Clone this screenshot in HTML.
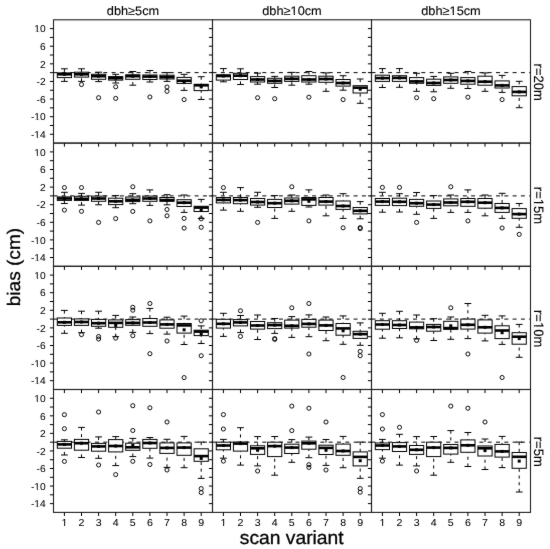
<!DOCTYPE html><html><head><meta charset="utf-8"><style>html,body{margin:0;padding:0;background:#fff;}svg{display:block;}#w{width:550px;height:549px;}text{text-rendering:geometricPrecision;font-family:"Liberation Sans",sans-serif;}</style></head><body><div id="w">
<svg width="550" height="549" viewBox="0 0 550 549">
<defs><filter id="bl" x="0" y="0" width="550" height="549" filterUnits="userSpaceOnUse" color-interpolation-filters="sRGB"><feConvolveMatrix order="3" kernelMatrix="0.01 0.05 0.01 0.05 0.76 0.05 0.01 0.05 0.01" divisor="1" edgeMode="duplicate"/></filter></defs><g filter="url(#bl)">
<rect x="0" y="0" width="550" height="549" fill="#fff"/>
<g stroke="#000" stroke-width="1" fill="none" stroke-dasharray="4 4.3">
<line x1="53.5" y1="72.64" x2="212.5" y2="72.64"/>
<line x1="212.5" y1="72.64" x2="371.5" y2="72.64"/>
<line x1="371.5" y1="72.64" x2="530.5" y2="72.64"/>
<line x1="53.5" y1="195.9" x2="212.5" y2="195.9"/>
<line x1="212.5" y1="195.9" x2="371.5" y2="195.9"/>
<line x1="371.5" y1="195.9" x2="530.5" y2="195.9"/>
<line x1="53.5" y1="319.1" x2="212.5" y2="319.1"/>
<line x1="212.5" y1="319.1" x2="371.5" y2="319.1"/>
<line x1="371.5" y1="319.1" x2="530.5" y2="319.1"/>
<line x1="53.5" y1="442.17" x2="212.5" y2="442.17"/>
<line x1="212.5" y1="442.17" x2="371.5" y2="442.17"/>
<line x1="371.5" y1="442.17" x2="530.5" y2="442.17"/>
</g>
<g stroke="#000" stroke-width="1" fill="none" stroke-dasharray="3.1 3.6">
<line x1="64.4" y1="68.8" x2="64.4" y2="72.9"/>
<line x1="64.4" y1="81.4" x2="64.4" y2="77.6"/>
<line x1="81.5" y1="68.8" x2="81.5" y2="72.2"/>
<line x1="81.5" y1="81.4" x2="81.5" y2="77.1"/>
<line x1="98.6" y1="72.2" x2="98.6" y2="74.3"/>
<line x1="98.6" y1="81.6" x2="98.6" y2="79.3"/>
<line x1="115.7" y1="74.3" x2="115.7" y2="76.6"/>
<line x1="115.7" y1="83" x2="115.7" y2="80.1"/>
<line x1="132.8" y1="71.5" x2="132.8" y2="74.8"/>
<line x1="132.8" y1="85.2" x2="132.8" y2="79.3"/>
<line x1="149.9" y1="70.5" x2="149.9" y2="75"/>
<line x1="149.9" y1="82" x2="149.9" y2="79.5"/>
<line x1="167" y1="72.6" x2="167" y2="75.2"/>
<line x1="167" y1="81.4" x2="167" y2="79"/>
<line x1="184.1" y1="74.3" x2="184.1" y2="77.4"/>
<line x1="184.1" y1="90.4" x2="184.1" y2="83.4"/>
<line x1="201.2" y1="76.7" x2="201.2" y2="84.3"/>
<line x1="201.2" y1="99.5" x2="201.2" y2="90.6"/>
<line x1="223.4" y1="68.6" x2="223.4" y2="74.8"/>
<line x1="223.4" y1="81.8" x2="223.4" y2="80.1"/>
<line x1="240.5" y1="68.8" x2="240.5" y2="73.3"/>
<line x1="240.5" y1="84.5" x2="240.5" y2="79.5"/>
<line x1="257.6" y1="73.2" x2="257.6" y2="76.6"/>
<line x1="257.6" y1="84.2" x2="257.6" y2="82"/>
<line x1="274.7" y1="76.4" x2="274.7" y2="78.3"/>
<line x1="274.7" y1="87.5" x2="274.7" y2="83.3"/>
<line x1="291.8" y1="72.4" x2="291.8" y2="76.2"/>
<line x1="291.8" y1="85.2" x2="291.8" y2="81.4"/>
<line x1="308.9" y1="71.5" x2="308.9" y2="75.7"/>
<line x1="308.9" y1="84.2" x2="308.9" y2="82"/>
<line x1="326" y1="72.9" x2="326" y2="76.2"/>
<line x1="326" y1="91.3" x2="326" y2="82.3"/>
<line x1="343.1" y1="75.7" x2="343.1" y2="79.5"/>
<line x1="343.1" y1="90.2" x2="343.1" y2="86.1"/>
<line x1="360.2" y1="79" x2="360.2" y2="85.7"/>
<line x1="360.2" y1="103.3" x2="360.2" y2="93"/>
<line x1="382.4" y1="68.6" x2="382.4" y2="75.2"/>
<line x1="382.4" y1="87.5" x2="382.4" y2="81.4"/>
<line x1="399.5" y1="68.6" x2="399.5" y2="75.7"/>
<line x1="399.5" y1="87.3" x2="399.5" y2="81.4"/>
<line x1="416.6" y1="73.3" x2="416.6" y2="77.6"/>
<line x1="416.6" y1="91.3" x2="416.6" y2="83.3"/>
<line x1="433.7" y1="76.4" x2="433.7" y2="79.2"/>
<line x1="433.7" y1="91.8" x2="433.7" y2="85.4"/>
<line x1="450.8" y1="73.3" x2="450.8" y2="76.9"/>
<line x1="450.8" y1="88.3" x2="450.8" y2="83.3"/>
<line x1="467.9" y1="71.5" x2="467.9" y2="77.6"/>
<line x1="467.9" y1="88.5" x2="467.9" y2="84.2"/>
<line x1="485" y1="72.9" x2="485" y2="76.2"/>
<line x1="485" y1="91.3" x2="485" y2="85.2"/>
<line x1="502.1" y1="75.4" x2="502.1" y2="80.9"/>
<line x1="502.1" y1="92.4" x2="502.1" y2="88"/>
<line x1="519.2" y1="81.3" x2="519.2" y2="86.6"/>
<line x1="519.2" y1="107.7" x2="519.2" y2="95.8"/>
<line x1="64.4" y1="192.3" x2="64.4" y2="196.9"/>
<line x1="64.4" y1="203.5" x2="64.4" y2="200.4"/>
<line x1="81.5" y1="193.4" x2="81.5" y2="196.3"/>
<line x1="81.5" y1="205.1" x2="81.5" y2="200.4"/>
<line x1="98.6" y1="192.3" x2="98.6" y2="196.1"/>
<line x1="98.6" y1="204.8" x2="98.6" y2="201.3"/>
<line x1="115.7" y1="195.6" x2="115.7" y2="198.2"/>
<line x1="115.7" y1="207.7" x2="115.7" y2="204.6"/>
<line x1="132.8" y1="193.7" x2="132.8" y2="197"/>
<line x1="132.8" y1="203.7" x2="132.8" y2="201.6"/>
<line x1="149.9" y1="189.9" x2="149.9" y2="196.1"/>
<line x1="149.9" y1="205.4" x2="149.9" y2="201.3"/>
<line x1="167" y1="194.7" x2="167" y2="197.5"/>
<line x1="167" y1="204.8" x2="167" y2="201.3"/>
<line x1="184.1" y1="195" x2="184.1" y2="199.7"/>
<line x1="184.1" y1="212.4" x2="184.1" y2="206.5"/>
<line x1="201.2" y1="199.4" x2="201.2" y2="206.3"/>
<line x1="201.2" y1="218.4" x2="201.2" y2="211.5"/>
<line x1="223.4" y1="192.3" x2="223.4" y2="197.5"/>
<line x1="223.4" y1="210.1" x2="223.4" y2="202.9"/>
<line x1="240.5" y1="187.6" x2="240.5" y2="197.5"/>
<line x1="240.5" y1="211.3" x2="240.5" y2="203.7"/>
<line x1="257.6" y1="192.3" x2="257.6" y2="198.5"/>
<line x1="257.6" y1="207.3" x2="257.6" y2="205.1"/>
<line x1="274.7" y1="195.6" x2="274.7" y2="199.4"/>
<line x1="274.7" y1="218.4" x2="274.7" y2="207.5"/>
<line x1="291.8" y1="195" x2="291.8" y2="198"/>
<line x1="291.8" y1="211.3" x2="291.8" y2="204.1"/>
<line x1="308.9" y1="189.9" x2="308.9" y2="197.5"/>
<line x1="308.9" y1="207" x2="308.9" y2="205.4"/>
<line x1="326" y1="195" x2="326" y2="197.5"/>
<line x1="326" y1="215.8" x2="326" y2="205.1"/>
<line x1="343.1" y1="193.7" x2="343.1" y2="201"/>
<line x1="343.1" y1="218.4" x2="343.1" y2="209.4"/>
<line x1="360.2" y1="201.6" x2="360.2" y2="207.5"/>
<line x1="360.2" y1="218.8" x2="360.2" y2="213.9"/>
<line x1="382.4" y1="192.3" x2="382.4" y2="198.5"/>
<line x1="382.4" y1="212.2" x2="382.4" y2="205.4"/>
<line x1="399.5" y1="193.7" x2="399.5" y2="198.2"/>
<line x1="399.5" y1="212" x2="399.5" y2="205.6"/>
<line x1="416.6" y1="192.5" x2="416.6" y2="199.4"/>
<line x1="416.6" y1="214.3" x2="416.6" y2="206.3"/>
<line x1="433.7" y1="195.6" x2="433.7" y2="201"/>
<line x1="433.7" y1="218.4" x2="433.7" y2="208.4"/>
<line x1="450.8" y1="195" x2="450.8" y2="198.9"/>
<line x1="450.8" y1="212.4" x2="450.8" y2="205.8"/>
<line x1="467.9" y1="189.9" x2="467.9" y2="198.5"/>
<line x1="467.9" y1="212.4" x2="467.9" y2="206.3"/>
<line x1="485" y1="195" x2="485" y2="198.5"/>
<line x1="485" y1="215.8" x2="485" y2="208.2"/>
<line x1="502.1" y1="193.3" x2="502.1" y2="203.5"/>
<line x1="502.1" y1="218.4" x2="502.1" y2="212.4"/>
<line x1="519.2" y1="203.5" x2="519.2" y2="208.6"/>
<line x1="519.2" y1="227.3" x2="519.2" y2="218.3"/>
<line x1="64.4" y1="310.4" x2="64.4" y2="318"/>
<line x1="64.4" y1="333.3" x2="64.4" y2="325.4"/>
<line x1="81.5" y1="311.2" x2="81.5" y2="318.9"/>
<line x1="81.5" y1="332.7" x2="81.5" y2="325.4"/>
<line x1="98.6" y1="311.2" x2="98.6" y2="319.4"/>
<line x1="98.6" y1="328.2" x2="98.6" y2="326.3"/>
<line x1="115.7" y1="315.4" x2="115.7" y2="319.9"/>
<line x1="115.7" y1="336.7" x2="115.7" y2="327.3"/>
<line x1="132.8" y1="317" x2="132.8" y2="319.6"/>
<line x1="132.8" y1="332.4" x2="132.8" y2="325.3"/>
<line x1="149.9" y1="308.4" x2="149.9" y2="318.5"/>
<line x1="149.9" y1="333.6" x2="149.9" y2="326.3"/>
<line x1="167" y1="317.2" x2="167" y2="319.9"/>
<line x1="167" y1="334.1" x2="167" y2="328.2"/>
<line x1="184.1" y1="316.1" x2="184.1" y2="323.5"/>
<line x1="184.1" y1="344.5" x2="184.1" y2="333.1"/>
<line x1="201.2" y1="325.9" x2="201.2" y2="330.2"/>
<line x1="201.2" y1="343.5" x2="201.2" y2="335.6"/>
<line x1="223.4" y1="313.3" x2="223.4" y2="319.3"/>
<line x1="223.4" y1="336.4" x2="223.4" y2="328.1"/>
<line x1="240.5" y1="315.5" x2="240.5" y2="319.6"/>
<line x1="240.5" y1="332.6" x2="240.5" y2="325.9"/>
<line x1="257.6" y1="315" x2="257.6" y2="321.5"/>
<line x1="257.6" y1="339.5" x2="257.6" y2="329.1"/>
<line x1="274.7" y1="318.5" x2="274.7" y2="322.7"/>
<line x1="274.7" y1="333.4" x2="274.7" y2="328.6"/>
<line x1="291.8" y1="316.6" x2="291.8" y2="320.1"/>
<line x1="291.8" y1="337.4" x2="291.8" y2="328.1"/>
<line x1="308.9" y1="314.9" x2="308.9" y2="319.4"/>
<line x1="308.9" y1="336.7" x2="308.9" y2="327.2"/>
<line x1="326" y1="317" x2="326" y2="320.1"/>
<line x1="326" y1="340.7" x2="326" y2="330.5"/>
<line x1="343.1" y1="315.9" x2="343.1" y2="323.5"/>
<line x1="343.1" y1="344.3" x2="343.1" y2="335.2"/>
<line x1="360.2" y1="322.9" x2="360.2" y2="331.3"/>
<line x1="360.2" y1="345.3" x2="360.2" y2="338.4"/>
<line x1="382.4" y1="313.3" x2="382.4" y2="320.7"/>
<line x1="382.4" y1="338.2" x2="382.4" y2="329.2"/>
<line x1="399.5" y1="311.3" x2="399.5" y2="320.7"/>
<line x1="399.5" y1="337.8" x2="399.5" y2="328.5"/>
<line x1="416.6" y1="315" x2="416.6" y2="322.1"/>
<line x1="416.6" y1="338.9" x2="416.6" y2="328.8"/>
<line x1="433.7" y1="318.7" x2="433.7" y2="324.4"/>
<line x1="433.7" y1="340.5" x2="433.7" y2="331.2"/>
<line x1="450.8" y1="317" x2="450.8" y2="321.3"/>
<line x1="450.8" y1="339.3" x2="450.8" y2="329.3"/>
<line x1="467.9" y1="303.5" x2="467.9" y2="319.1"/>
<line x1="467.9" y1="338.6" x2="467.9" y2="329.1"/>
<line x1="485" y1="315.3" x2="485" y2="319.9"/>
<line x1="485" y1="340.9" x2="485" y2="333.1"/>
<line x1="502.1" y1="315.9" x2="502.1" y2="325.8"/>
<line x1="502.1" y1="344.4" x2="502.1" y2="338.6"/>
<line x1="519.2" y1="324.4" x2="519.2" y2="332.7"/>
<line x1="519.2" y1="357.3" x2="519.2" y2="344.2"/>
<line x1="64.4" y1="439.8" x2="64.4" y2="441.4"/>
<line x1="64.4" y1="455" x2="64.4" y2="448.2"/>
<line x1="81.5" y1="427.4" x2="81.5" y2="439.4"/>
<line x1="81.5" y1="457.5" x2="81.5" y2="450.2"/>
<line x1="98.6" y1="436.9" x2="98.6" y2="443.4"/>
<line x1="98.6" y1="458.3" x2="98.6" y2="451.2"/>
<line x1="115.7" y1="436.6" x2="115.7" y2="439.6"/>
<line x1="115.7" y1="465.6" x2="115.7" y2="451.9"/>
<line x1="132.8" y1="438.4" x2="132.8" y2="443.2"/>
<line x1="132.8" y1="456.6" x2="132.8" y2="450.3"/>
<line x1="149.9" y1="437.5" x2="149.9" y2="439.4"/>
<line x1="149.9" y1="458.1" x2="149.9" y2="448.3"/>
<line x1="167" y1="439.3" x2="167" y2="442.9"/>
<line x1="167" y1="467.4" x2="167" y2="453.4"/>
<line x1="184.1" y1="436.4" x2="184.1" y2="442.9"/>
<line x1="184.1" y1="467.7" x2="184.1" y2="455.3"/>
<line x1="201.2" y1="442.1" x2="201.2" y2="448.8"/>
<line x1="201.2" y1="478.4" x2="201.2" y2="461.3"/>
<line x1="223.4" y1="439.4" x2="223.4" y2="442.2"/>
<line x1="223.4" y1="458.2" x2="223.4" y2="449.8"/>
<line x1="240.5" y1="427.7" x2="240.5" y2="442"/>
<line x1="240.5" y1="465.1" x2="240.5" y2="451.1"/>
<line x1="257.6" y1="436.6" x2="257.6" y2="445.8"/>
<line x1="257.6" y1="465.9" x2="257.6" y2="454.4"/>
<line x1="274.7" y1="436.5" x2="274.7" y2="442.2"/>
<line x1="274.7" y1="475.2" x2="274.7" y2="456.6"/>
<line x1="291.8" y1="439.6" x2="291.8" y2="444.2"/>
<line x1="291.8" y1="462.3" x2="291.8" y2="453.5"/>
<line x1="308.9" y1="437.1" x2="308.9" y2="441.1"/>
<line x1="308.9" y1="457.7" x2="308.9" y2="449.2"/>
<line x1="326" y1="439.5" x2="326" y2="445.2"/>
<line x1="326" y1="465.4" x2="326" y2="454.5"/>
<line x1="343.1" y1="436.4" x2="343.1" y2="444.1"/>
<line x1="343.1" y1="467.7" x2="343.1" y2="455.3"/>
<line x1="360.2" y1="442.1" x2="360.2" y2="451.9"/>
<line x1="360.2" y1="478.3" x2="360.2" y2="465.9"/>
<line x1="382.4" y1="439.4" x2="382.4" y2="443"/>
<line x1="382.4" y1="458.2" x2="382.4" y2="449.6"/>
<line x1="399.5" y1="434.3" x2="399.5" y2="442.6"/>
<line x1="399.5" y1="465.1" x2="399.5" y2="451.5"/>
<line x1="416.6" y1="436.6" x2="416.6" y2="445.5"/>
<line x1="416.6" y1="465.9" x2="416.6" y2="454.4"/>
<line x1="433.7" y1="436.5" x2="433.7" y2="442.2"/>
<line x1="433.7" y1="475.2" x2="433.7" y2="456.6"/>
<line x1="450.8" y1="430.6" x2="450.8" y2="444.5"/>
<line x1="450.8" y1="462.3" x2="450.8" y2="454.1"/>
<line x1="467.9" y1="432.5" x2="467.9" y2="439.9"/>
<line x1="467.9" y1="466.5" x2="467.9" y2="452.3"/>
<line x1="485" y1="439" x2="485" y2="446"/>
<line x1="485" y1="469.5" x2="485" y2="456"/>
<line x1="502.1" y1="436.4" x2="502.1" y2="444.4"/>
<line x1="502.1" y1="467.6" x2="502.1" y2="457.1"/>
<line x1="519.2" y1="442.1" x2="519.2" y2="452.5"/>
<line x1="519.2" y1="492" x2="519.2" y2="468.3"/>
</g>
<g stroke="#000" stroke-width="1" fill="none">
<line x1="61" y1="68.8" x2="67.8" y2="68.8"/>
<line x1="61" y1="81.4" x2="67.8" y2="81.4"/>
<line x1="78.1" y1="68.8" x2="84.9" y2="68.8"/>
<line x1="78.1" y1="81.4" x2="84.9" y2="81.4"/>
<line x1="95.2" y1="72.2" x2="102" y2="72.2"/>
<line x1="95.2" y1="81.6" x2="102" y2="81.6"/>
<line x1="112.3" y1="74.3" x2="119.1" y2="74.3"/>
<line x1="112.3" y1="83" x2="119.1" y2="83"/>
<line x1="129.4" y1="71.5" x2="136.2" y2="71.5"/>
<line x1="129.4" y1="85.2" x2="136.2" y2="85.2"/>
<line x1="146.5" y1="70.5" x2="153.3" y2="70.5"/>
<line x1="146.5" y1="82" x2="153.3" y2="82"/>
<line x1="163.6" y1="72.6" x2="170.4" y2="72.6"/>
<line x1="163.6" y1="81.4" x2="170.4" y2="81.4"/>
<line x1="180.7" y1="74.3" x2="187.5" y2="74.3"/>
<line x1="180.7" y1="90.4" x2="187.5" y2="90.4"/>
<line x1="197.8" y1="76.7" x2="204.6" y2="76.7"/>
<line x1="197.8" y1="99.5" x2="204.6" y2="99.5"/>
<line x1="220" y1="68.6" x2="226.8" y2="68.6"/>
<line x1="220" y1="81.8" x2="226.8" y2="81.8"/>
<line x1="237.1" y1="68.8" x2="243.9" y2="68.8"/>
<line x1="237.1" y1="84.5" x2="243.9" y2="84.5"/>
<line x1="254.2" y1="73.2" x2="261" y2="73.2"/>
<line x1="254.2" y1="84.2" x2="261" y2="84.2"/>
<line x1="271.3" y1="76.4" x2="278.1" y2="76.4"/>
<line x1="271.3" y1="87.5" x2="278.1" y2="87.5"/>
<line x1="288.4" y1="72.4" x2="295.2" y2="72.4"/>
<line x1="288.4" y1="85.2" x2="295.2" y2="85.2"/>
<line x1="305.5" y1="71.5" x2="312.3" y2="71.5"/>
<line x1="305.5" y1="84.2" x2="312.3" y2="84.2"/>
<line x1="322.6" y1="72.9" x2="329.4" y2="72.9"/>
<line x1="322.6" y1="91.3" x2="329.4" y2="91.3"/>
<line x1="339.7" y1="75.7" x2="346.5" y2="75.7"/>
<line x1="339.7" y1="90.2" x2="346.5" y2="90.2"/>
<line x1="356.8" y1="79" x2="363.6" y2="79"/>
<line x1="356.8" y1="103.3" x2="363.6" y2="103.3"/>
<line x1="379" y1="68.6" x2="385.8" y2="68.6"/>
<line x1="379" y1="87.5" x2="385.8" y2="87.5"/>
<line x1="396.1" y1="68.6" x2="402.9" y2="68.6"/>
<line x1="396.1" y1="87.3" x2="402.9" y2="87.3"/>
<line x1="413.2" y1="73.3" x2="420" y2="73.3"/>
<line x1="413.2" y1="91.3" x2="420" y2="91.3"/>
<line x1="430.3" y1="76.4" x2="437.1" y2="76.4"/>
<line x1="430.3" y1="91.8" x2="437.1" y2="91.8"/>
<line x1="447.4" y1="73.3" x2="454.2" y2="73.3"/>
<line x1="447.4" y1="88.3" x2="454.2" y2="88.3"/>
<line x1="464.5" y1="71.5" x2="471.3" y2="71.5"/>
<line x1="464.5" y1="88.5" x2="471.3" y2="88.5"/>
<line x1="481.6" y1="72.9" x2="488.4" y2="72.9"/>
<line x1="481.6" y1="91.3" x2="488.4" y2="91.3"/>
<line x1="498.7" y1="75.4" x2="505.5" y2="75.4"/>
<line x1="498.7" y1="92.4" x2="505.5" y2="92.4"/>
<line x1="515.8" y1="81.3" x2="522.6" y2="81.3"/>
<line x1="515.8" y1="107.7" x2="522.6" y2="107.7"/>
<line x1="61" y1="192.3" x2="67.8" y2="192.3"/>
<line x1="61" y1="203.5" x2="67.8" y2="203.5"/>
<line x1="78.1" y1="193.4" x2="84.9" y2="193.4"/>
<line x1="78.1" y1="205.1" x2="84.9" y2="205.1"/>
<line x1="95.2" y1="192.3" x2="102" y2="192.3"/>
<line x1="95.2" y1="204.8" x2="102" y2="204.8"/>
<line x1="112.3" y1="195.6" x2="119.1" y2="195.6"/>
<line x1="112.3" y1="207.7" x2="119.1" y2="207.7"/>
<line x1="129.4" y1="193.7" x2="136.2" y2="193.7"/>
<line x1="129.4" y1="203.7" x2="136.2" y2="203.7"/>
<line x1="146.5" y1="189.9" x2="153.3" y2="189.9"/>
<line x1="146.5" y1="205.4" x2="153.3" y2="205.4"/>
<line x1="163.6" y1="194.7" x2="170.4" y2="194.7"/>
<line x1="163.6" y1="204.8" x2="170.4" y2="204.8"/>
<line x1="180.7" y1="195" x2="187.5" y2="195"/>
<line x1="180.7" y1="212.4" x2="187.5" y2="212.4"/>
<line x1="197.8" y1="199.4" x2="204.6" y2="199.4"/>
<line x1="197.8" y1="218.4" x2="204.6" y2="218.4"/>
<line x1="220" y1="192.3" x2="226.8" y2="192.3"/>
<line x1="220" y1="210.1" x2="226.8" y2="210.1"/>
<line x1="237.1" y1="187.6" x2="243.9" y2="187.6"/>
<line x1="237.1" y1="211.3" x2="243.9" y2="211.3"/>
<line x1="254.2" y1="192.3" x2="261" y2="192.3"/>
<line x1="254.2" y1="207.3" x2="261" y2="207.3"/>
<line x1="271.3" y1="195.6" x2="278.1" y2="195.6"/>
<line x1="271.3" y1="218.4" x2="278.1" y2="218.4"/>
<line x1="288.4" y1="195" x2="295.2" y2="195"/>
<line x1="288.4" y1="211.3" x2="295.2" y2="211.3"/>
<line x1="305.5" y1="189.9" x2="312.3" y2="189.9"/>
<line x1="305.5" y1="207" x2="312.3" y2="207"/>
<line x1="322.6" y1="195" x2="329.4" y2="195"/>
<line x1="322.6" y1="215.8" x2="329.4" y2="215.8"/>
<line x1="339.7" y1="193.7" x2="346.5" y2="193.7"/>
<line x1="339.7" y1="218.4" x2="346.5" y2="218.4"/>
<line x1="356.8" y1="201.6" x2="363.6" y2="201.6"/>
<line x1="356.8" y1="218.8" x2="363.6" y2="218.8"/>
<line x1="379" y1="192.3" x2="385.8" y2="192.3"/>
<line x1="379" y1="212.2" x2="385.8" y2="212.2"/>
<line x1="396.1" y1="193.7" x2="402.9" y2="193.7"/>
<line x1="396.1" y1="212" x2="402.9" y2="212"/>
<line x1="413.2" y1="192.5" x2="420" y2="192.5"/>
<line x1="413.2" y1="214.3" x2="420" y2="214.3"/>
<line x1="430.3" y1="195.6" x2="437.1" y2="195.6"/>
<line x1="430.3" y1="218.4" x2="437.1" y2="218.4"/>
<line x1="447.4" y1="195" x2="454.2" y2="195"/>
<line x1="447.4" y1="212.4" x2="454.2" y2="212.4"/>
<line x1="464.5" y1="189.9" x2="471.3" y2="189.9"/>
<line x1="464.5" y1="212.4" x2="471.3" y2="212.4"/>
<line x1="481.6" y1="195" x2="488.4" y2="195"/>
<line x1="481.6" y1="215.8" x2="488.4" y2="215.8"/>
<line x1="498.7" y1="193.3" x2="505.5" y2="193.3"/>
<line x1="498.7" y1="218.4" x2="505.5" y2="218.4"/>
<line x1="515.8" y1="203.5" x2="522.6" y2="203.5"/>
<line x1="515.8" y1="227.3" x2="522.6" y2="227.3"/>
<line x1="61" y1="310.4" x2="67.8" y2="310.4"/>
<line x1="61" y1="333.3" x2="67.8" y2="333.3"/>
<line x1="78.1" y1="311.2" x2="84.9" y2="311.2"/>
<line x1="78.1" y1="332.7" x2="84.9" y2="332.7"/>
<line x1="95.2" y1="311.2" x2="102" y2="311.2"/>
<line x1="95.2" y1="328.2" x2="102" y2="328.2"/>
<line x1="112.3" y1="315.4" x2="119.1" y2="315.4"/>
<line x1="112.3" y1="336.7" x2="119.1" y2="336.7"/>
<line x1="129.4" y1="317" x2="136.2" y2="317"/>
<line x1="129.4" y1="332.4" x2="136.2" y2="332.4"/>
<line x1="146.5" y1="308.4" x2="153.3" y2="308.4"/>
<line x1="146.5" y1="333.6" x2="153.3" y2="333.6"/>
<line x1="163.6" y1="317.2" x2="170.4" y2="317.2"/>
<line x1="163.6" y1="334.1" x2="170.4" y2="334.1"/>
<line x1="180.7" y1="316.1" x2="187.5" y2="316.1"/>
<line x1="180.7" y1="344.5" x2="187.5" y2="344.5"/>
<line x1="197.8" y1="325.9" x2="204.6" y2="325.9"/>
<line x1="197.8" y1="343.5" x2="204.6" y2="343.5"/>
<line x1="220" y1="313.3" x2="226.8" y2="313.3"/>
<line x1="220" y1="336.4" x2="226.8" y2="336.4"/>
<line x1="237.1" y1="315.5" x2="243.9" y2="315.5"/>
<line x1="237.1" y1="332.6" x2="243.9" y2="332.6"/>
<line x1="254.2" y1="315" x2="261" y2="315"/>
<line x1="254.2" y1="339.5" x2="261" y2="339.5"/>
<line x1="271.3" y1="318.5" x2="278.1" y2="318.5"/>
<line x1="271.3" y1="333.4" x2="278.1" y2="333.4"/>
<line x1="288.4" y1="316.6" x2="295.2" y2="316.6"/>
<line x1="288.4" y1="337.4" x2="295.2" y2="337.4"/>
<line x1="305.5" y1="314.9" x2="312.3" y2="314.9"/>
<line x1="305.5" y1="336.7" x2="312.3" y2="336.7"/>
<line x1="322.6" y1="317" x2="329.4" y2="317"/>
<line x1="322.6" y1="340.7" x2="329.4" y2="340.7"/>
<line x1="339.7" y1="315.9" x2="346.5" y2="315.9"/>
<line x1="339.7" y1="344.3" x2="346.5" y2="344.3"/>
<line x1="356.8" y1="322.9" x2="363.6" y2="322.9"/>
<line x1="356.8" y1="345.3" x2="363.6" y2="345.3"/>
<line x1="379" y1="313.3" x2="385.8" y2="313.3"/>
<line x1="379" y1="338.2" x2="385.8" y2="338.2"/>
<line x1="396.1" y1="311.3" x2="402.9" y2="311.3"/>
<line x1="396.1" y1="337.8" x2="402.9" y2="337.8"/>
<line x1="413.2" y1="315" x2="420" y2="315"/>
<line x1="413.2" y1="338.9" x2="420" y2="338.9"/>
<line x1="430.3" y1="318.7" x2="437.1" y2="318.7"/>
<line x1="430.3" y1="340.5" x2="437.1" y2="340.5"/>
<line x1="447.4" y1="317" x2="454.2" y2="317"/>
<line x1="447.4" y1="339.3" x2="454.2" y2="339.3"/>
<line x1="464.5" y1="303.5" x2="471.3" y2="303.5"/>
<line x1="464.5" y1="338.6" x2="471.3" y2="338.6"/>
<line x1="481.6" y1="315.3" x2="488.4" y2="315.3"/>
<line x1="481.6" y1="340.9" x2="488.4" y2="340.9"/>
<line x1="498.7" y1="315.9" x2="505.5" y2="315.9"/>
<line x1="498.7" y1="344.4" x2="505.5" y2="344.4"/>
<line x1="515.8" y1="324.4" x2="522.6" y2="324.4"/>
<line x1="515.8" y1="357.3" x2="522.6" y2="357.3"/>
<line x1="61" y1="439.8" x2="67.8" y2="439.8"/>
<line x1="61" y1="455" x2="67.8" y2="455"/>
<line x1="78.1" y1="427.4" x2="84.9" y2="427.4"/>
<line x1="78.1" y1="457.5" x2="84.9" y2="457.5"/>
<line x1="95.2" y1="436.9" x2="102" y2="436.9"/>
<line x1="95.2" y1="458.3" x2="102" y2="458.3"/>
<line x1="112.3" y1="436.6" x2="119.1" y2="436.6"/>
<line x1="112.3" y1="465.6" x2="119.1" y2="465.6"/>
<line x1="129.4" y1="438.4" x2="136.2" y2="438.4"/>
<line x1="129.4" y1="456.6" x2="136.2" y2="456.6"/>
<line x1="146.5" y1="437.5" x2="153.3" y2="437.5"/>
<line x1="146.5" y1="458.1" x2="153.3" y2="458.1"/>
<line x1="163.6" y1="439.3" x2="170.4" y2="439.3"/>
<line x1="163.6" y1="467.4" x2="170.4" y2="467.4"/>
<line x1="180.7" y1="436.4" x2="187.5" y2="436.4"/>
<line x1="180.7" y1="467.7" x2="187.5" y2="467.7"/>
<line x1="197.8" y1="442.1" x2="204.6" y2="442.1"/>
<line x1="197.8" y1="478.4" x2="204.6" y2="478.4"/>
<line x1="220" y1="439.4" x2="226.8" y2="439.4"/>
<line x1="220" y1="458.2" x2="226.8" y2="458.2"/>
<line x1="237.1" y1="427.7" x2="243.9" y2="427.7"/>
<line x1="237.1" y1="465.1" x2="243.9" y2="465.1"/>
<line x1="254.2" y1="436.6" x2="261" y2="436.6"/>
<line x1="254.2" y1="465.9" x2="261" y2="465.9"/>
<line x1="271.3" y1="436.5" x2="278.1" y2="436.5"/>
<line x1="271.3" y1="475.2" x2="278.1" y2="475.2"/>
<line x1="288.4" y1="439.6" x2="295.2" y2="439.6"/>
<line x1="288.4" y1="462.3" x2="295.2" y2="462.3"/>
<line x1="305.5" y1="437.1" x2="312.3" y2="437.1"/>
<line x1="305.5" y1="457.7" x2="312.3" y2="457.7"/>
<line x1="322.6" y1="439.5" x2="329.4" y2="439.5"/>
<line x1="322.6" y1="465.4" x2="329.4" y2="465.4"/>
<line x1="339.7" y1="436.4" x2="346.5" y2="436.4"/>
<line x1="339.7" y1="467.7" x2="346.5" y2="467.7"/>
<line x1="356.8" y1="442.1" x2="363.6" y2="442.1"/>
<line x1="356.8" y1="478.3" x2="363.6" y2="478.3"/>
<line x1="379" y1="439.4" x2="385.8" y2="439.4"/>
<line x1="379" y1="458.2" x2="385.8" y2="458.2"/>
<line x1="396.1" y1="434.3" x2="402.9" y2="434.3"/>
<line x1="396.1" y1="465.1" x2="402.9" y2="465.1"/>
<line x1="413.2" y1="436.6" x2="420" y2="436.6"/>
<line x1="413.2" y1="465.9" x2="420" y2="465.9"/>
<line x1="430.3" y1="436.5" x2="437.1" y2="436.5"/>
<line x1="430.3" y1="475.2" x2="437.1" y2="475.2"/>
<line x1="447.4" y1="430.6" x2="454.2" y2="430.6"/>
<line x1="447.4" y1="462.3" x2="454.2" y2="462.3"/>
<line x1="464.5" y1="432.5" x2="471.3" y2="432.5"/>
<line x1="464.5" y1="466.5" x2="471.3" y2="466.5"/>
<line x1="481.6" y1="439" x2="488.4" y2="439"/>
<line x1="481.6" y1="469.5" x2="488.4" y2="469.5"/>
<line x1="498.7" y1="436.4" x2="505.5" y2="436.4"/>
<line x1="498.7" y1="467.6" x2="505.5" y2="467.6"/>
<line x1="515.8" y1="442.1" x2="522.6" y2="442.1"/>
<line x1="515.8" y1="492" x2="522.6" y2="492"/>
</g>
<g stroke="#000" stroke-width="1" fill="none">
<rect x="57.3" y="72.9" width="14.2" height="4.7" fill="#fff"/>
<rect x="74.4" y="72.2" width="14.2" height="4.9" fill="#fff"/>
<rect x="91.5" y="74.3" width="14.2" height="5" fill="#fff"/>
<rect x="108.6" y="76.6" width="14.2" height="3.5" fill="#fff"/>
<rect x="125.7" y="74.8" width="14.2" height="4.5" fill="#fff"/>
<rect x="142.8" y="75" width="14.2" height="4.5" fill="#fff"/>
<rect x="159.9" y="75.2" width="14.2" height="3.8" fill="#fff"/>
<rect x="177" y="77.4" width="14.2" height="6" fill="#fff"/>
<rect x="194.1" y="84.3" width="14.2" height="6.3" fill="#fff"/>
<rect x="216.3" y="74.8" width="14.2" height="5.3" fill="#fff"/>
<rect x="233.4" y="73.3" width="14.2" height="6.2" fill="#fff"/>
<rect x="250.5" y="76.6" width="14.2" height="5.4" fill="#fff"/>
<rect x="267.6" y="78.3" width="14.2" height="5" fill="#fff"/>
<rect x="284.7" y="76.2" width="14.2" height="5.2" fill="#fff"/>
<rect x="301.8" y="75.7" width="14.2" height="6.3" fill="#fff"/>
<rect x="318.9" y="76.2" width="14.2" height="6.1" fill="#fff"/>
<rect x="336" y="79.5" width="14.2" height="6.6" fill="#fff"/>
<rect x="353.1" y="85.7" width="14.2" height="7.3" fill="#fff"/>
<rect x="375.3" y="75.2" width="14.2" height="6.2" fill="#fff"/>
<rect x="392.4" y="75.7" width="14.2" height="5.7" fill="#fff"/>
<rect x="409.5" y="77.6" width="14.2" height="5.7" fill="#fff"/>
<rect x="426.6" y="79.2" width="14.2" height="6.2" fill="#fff"/>
<rect x="443.7" y="76.9" width="14.2" height="6.4" fill="#fff"/>
<rect x="460.8" y="77.6" width="14.2" height="6.6" fill="#fff"/>
<rect x="477.9" y="76.2" width="14.2" height="9" fill="#fff"/>
<rect x="495" y="80.9" width="14.2" height="7.1" fill="#fff"/>
<rect x="512.1" y="86.6" width="14.2" height="9.2" fill="#fff"/>
<rect x="57.3" y="196.9" width="14.2" height="3.5" fill="#fff"/>
<rect x="74.4" y="196.3" width="14.2" height="4.1" fill="#fff"/>
<rect x="91.5" y="196.1" width="14.2" height="5.2" fill="#fff"/>
<rect x="108.6" y="198.2" width="14.2" height="6.4" fill="#fff"/>
<rect x="125.7" y="197" width="14.2" height="4.6" fill="#fff"/>
<rect x="142.8" y="196.1" width="14.2" height="5.2" fill="#fff"/>
<rect x="159.9" y="197.5" width="14.2" height="3.8" fill="#fff"/>
<rect x="177" y="199.7" width="14.2" height="6.8" fill="#fff"/>
<rect x="194.1" y="206.3" width="14.2" height="5.2" fill="#fff"/>
<rect x="216.3" y="197.5" width="14.2" height="5.4" fill="#fff"/>
<rect x="233.4" y="197.5" width="14.2" height="6.2" fill="#fff"/>
<rect x="250.5" y="198.5" width="14.2" height="6.6" fill="#fff"/>
<rect x="267.6" y="199.4" width="14.2" height="8.1" fill="#fff"/>
<rect x="284.7" y="198" width="14.2" height="6.1" fill="#fff"/>
<rect x="301.8" y="197.5" width="14.2" height="7.9" fill="#fff"/>
<rect x="318.9" y="197.5" width="14.2" height="7.6" fill="#fff"/>
<rect x="336" y="201" width="14.2" height="8.4" fill="#fff"/>
<rect x="353.1" y="207.5" width="14.2" height="6.4" fill="#fff"/>
<rect x="375.3" y="198.5" width="14.2" height="6.9" fill="#fff"/>
<rect x="392.4" y="198.2" width="14.2" height="7.4" fill="#fff"/>
<rect x="409.5" y="199.4" width="14.2" height="6.9" fill="#fff"/>
<rect x="426.6" y="201" width="14.2" height="7.4" fill="#fff"/>
<rect x="443.7" y="198.9" width="14.2" height="6.9" fill="#fff"/>
<rect x="460.8" y="198.5" width="14.2" height="7.8" fill="#fff"/>
<rect x="477.9" y="198.5" width="14.2" height="9.7" fill="#fff"/>
<rect x="495" y="203.5" width="14.2" height="8.9" fill="#fff"/>
<rect x="512.1" y="208.6" width="14.2" height="9.7" fill="#fff"/>
<rect x="57.3" y="318" width="14.2" height="7.4" fill="#fff"/>
<rect x="74.4" y="318.9" width="14.2" height="6.5" fill="#fff"/>
<rect x="91.5" y="319.4" width="14.2" height="6.9" fill="#fff"/>
<rect x="108.6" y="319.9" width="14.2" height="7.4" fill="#fff"/>
<rect x="125.7" y="319.6" width="14.2" height="5.7" fill="#fff"/>
<rect x="142.8" y="318.5" width="14.2" height="7.8" fill="#fff"/>
<rect x="159.9" y="319.9" width="14.2" height="8.3" fill="#fff"/>
<rect x="177" y="323.5" width="14.2" height="9.6" fill="#fff"/>
<rect x="194.1" y="330.2" width="14.2" height="5.4" fill="#fff"/>
<rect x="216.3" y="319.3" width="14.2" height="8.8" fill="#fff"/>
<rect x="233.4" y="319.6" width="14.2" height="6.3" fill="#fff"/>
<rect x="250.5" y="321.5" width="14.2" height="7.6" fill="#fff"/>
<rect x="267.6" y="322.7" width="14.2" height="5.9" fill="#fff"/>
<rect x="284.7" y="320.1" width="14.2" height="8" fill="#fff"/>
<rect x="301.8" y="319.4" width="14.2" height="7.8" fill="#fff"/>
<rect x="318.9" y="320.1" width="14.2" height="10.4" fill="#fff"/>
<rect x="336" y="323.5" width="14.2" height="11.7" fill="#fff"/>
<rect x="353.1" y="331.3" width="14.2" height="7.1" fill="#fff"/>
<rect x="375.3" y="320.7" width="14.2" height="8.5" fill="#fff"/>
<rect x="392.4" y="320.7" width="14.2" height="7.8" fill="#fff"/>
<rect x="409.5" y="322.1" width="14.2" height="6.7" fill="#fff"/>
<rect x="426.6" y="324.4" width="14.2" height="6.8" fill="#fff"/>
<rect x="443.7" y="321.3" width="14.2" height="8" fill="#fff"/>
<rect x="460.8" y="319.1" width="14.2" height="10" fill="#fff"/>
<rect x="477.9" y="319.9" width="14.2" height="13.2" fill="#fff"/>
<rect x="495" y="325.8" width="14.2" height="12.8" fill="#fff"/>
<rect x="512.1" y="332.7" width="14.2" height="11.5" fill="#fff"/>
<rect x="57.3" y="441.4" width="14.2" height="6.8" fill="#fff"/>
<rect x="74.4" y="439.4" width="14.2" height="10.8" fill="#fff"/>
<rect x="91.5" y="443.4" width="14.2" height="7.8" fill="#fff"/>
<rect x="108.6" y="439.6" width="14.2" height="12.3" fill="#fff"/>
<rect x="125.7" y="443.2" width="14.2" height="7.1" fill="#fff"/>
<rect x="142.8" y="439.4" width="14.2" height="8.9" fill="#fff"/>
<rect x="159.9" y="442.9" width="14.2" height="10.5" fill="#fff"/>
<rect x="177" y="442.9" width="14.2" height="12.4" fill="#fff"/>
<rect x="194.1" y="448.8" width="14.2" height="12.5" fill="#fff"/>
<rect x="216.3" y="442.2" width="14.2" height="7.6" fill="#fff"/>
<rect x="233.4" y="442" width="14.2" height="9.1" fill="#fff"/>
<rect x="250.5" y="445.8" width="14.2" height="8.6" fill="#fff"/>
<rect x="267.6" y="442.2" width="14.2" height="14.4" fill="#fff"/>
<rect x="284.7" y="444.2" width="14.2" height="9.3" fill="#fff"/>
<rect x="301.8" y="441.1" width="14.2" height="8.1" fill="#fff"/>
<rect x="318.9" y="445.2" width="14.2" height="9.3" fill="#fff"/>
<rect x="336" y="444.1" width="14.2" height="11.2" fill="#fff"/>
<rect x="353.1" y="451.9" width="14.2" height="14" fill="#fff"/>
<rect x="375.3" y="443" width="14.2" height="6.6" fill="#fff"/>
<rect x="392.4" y="442.6" width="14.2" height="8.9" fill="#fff"/>
<rect x="409.5" y="445.5" width="14.2" height="8.9" fill="#fff"/>
<rect x="426.6" y="442.2" width="14.2" height="14.4" fill="#fff"/>
<rect x="443.7" y="444.5" width="14.2" height="9.6" fill="#fff"/>
<rect x="460.8" y="439.9" width="14.2" height="12.4" fill="#fff"/>
<rect x="477.9" y="446" width="14.2" height="10" fill="#fff"/>
<rect x="495" y="444.4" width="14.2" height="12.7" fill="#fff"/>
<rect x="512.1" y="452.5" width="14.2" height="15.8" fill="#fff"/>
</g>
<g stroke="#000" stroke-width="2.6" fill="none">
<line x1="57.3" y1="74.3" x2="71.5" y2="74.3"/>
<line x1="74.4" y1="74.3" x2="88.6" y2="74.3"/>
<line x1="91.5" y1="76.2" x2="105.7" y2="76.2"/>
<line x1="108.6" y1="78.1" x2="122.8" y2="78.1"/>
<line x1="125.7" y1="76.2" x2="139.9" y2="76.2"/>
<line x1="142.8" y1="76.6" x2="157" y2="76.6"/>
<line x1="159.9" y1="77.1" x2="174.1" y2="77.1"/>
<line x1="177" y1="80.7" x2="191.2" y2="80.7"/>
<line x1="194.1" y1="85.3" x2="208.3" y2="85.3"/>
<line x1="216.3" y1="76" x2="230.5" y2="76"/>
<line x1="233.4" y1="75.7" x2="247.6" y2="75.7"/>
<line x1="250.5" y1="79.5" x2="264.7" y2="79.5"/>
<line x1="267.6" y1="80.9" x2="281.8" y2="80.9"/>
<line x1="284.7" y1="78.8" x2="298.9" y2="78.8"/>
<line x1="301.8" y1="79.5" x2="316" y2="79.5"/>
<line x1="318.9" y1="79" x2="333.1" y2="79"/>
<line x1="336" y1="83" x2="350.2" y2="83"/>
<line x1="353.1" y1="87.7" x2="367.3" y2="87.7"/>
<line x1="375.3" y1="78.1" x2="389.5" y2="78.1"/>
<line x1="392.4" y1="77.9" x2="406.6" y2="77.9"/>
<line x1="409.5" y1="81.4" x2="423.7" y2="81.4"/>
<line x1="426.6" y1="83" x2="440.8" y2="83"/>
<line x1="443.7" y1="80" x2="457.9" y2="80"/>
<line x1="460.8" y1="80.9" x2="475" y2="80.9"/>
<line x1="477.9" y1="81.7" x2="492.1" y2="81.7"/>
<line x1="495" y1="85.4" x2="509.2" y2="85.4"/>
<line x1="512.1" y1="91.9" x2="526.3" y2="91.9"/>
<line x1="57.3" y1="198.5" x2="71.5" y2="198.5"/>
<line x1="74.4" y1="198.8" x2="88.6" y2="198.8"/>
<line x1="91.5" y1="198.5" x2="105.7" y2="198.5"/>
<line x1="108.6" y1="201.3" x2="122.8" y2="201.3"/>
<line x1="125.7" y1="199.9" x2="139.9" y2="199.9"/>
<line x1="142.8" y1="198.5" x2="157" y2="198.5"/>
<line x1="159.9" y1="200.1" x2="174.1" y2="200.1"/>
<line x1="177" y1="202.7" x2="191.2" y2="202.7"/>
<line x1="194.1" y1="207.6" x2="208.3" y2="207.6"/>
<line x1="216.3" y1="199.9" x2="230.5" y2="199.9"/>
<line x1="233.4" y1="200.1" x2="247.6" y2="200.1"/>
<line x1="250.5" y1="202" x2="264.7" y2="202"/>
<line x1="267.6" y1="203.2" x2="281.8" y2="203.2"/>
<line x1="284.7" y1="200.8" x2="298.9" y2="200.8"/>
<line x1="301.8" y1="199.4" x2="316" y2="199.4"/>
<line x1="318.9" y1="201.6" x2="333.1" y2="201.6"/>
<line x1="336" y1="206" x2="350.2" y2="206"/>
<line x1="353.1" y1="210.8" x2="367.3" y2="210.8"/>
<line x1="375.3" y1="201.6" x2="389.5" y2="201.6"/>
<line x1="392.4" y1="201.8" x2="406.6" y2="201.8"/>
<line x1="409.5" y1="203.2" x2="423.7" y2="203.2"/>
<line x1="426.6" y1="204.6" x2="440.8" y2="204.6"/>
<line x1="443.7" y1="202.5" x2="457.9" y2="202.5"/>
<line x1="460.8" y1="201.8" x2="475" y2="201.8"/>
<line x1="477.9" y1="202.7" x2="492.1" y2="202.7"/>
<line x1="495" y1="207.9" x2="509.2" y2="207.9"/>
<line x1="512.1" y1="214.1" x2="526.3" y2="214.1"/>
<line x1="57.3" y1="322.3" x2="71.5" y2="322.3"/>
<line x1="74.4" y1="322" x2="88.6" y2="322"/>
<line x1="91.5" y1="323.2" x2="105.7" y2="323.2"/>
<line x1="108.6" y1="322.9" x2="122.8" y2="322.9"/>
<line x1="125.7" y1="322.9" x2="139.9" y2="322.9"/>
<line x1="142.8" y1="322.5" x2="157" y2="322.5"/>
<line x1="159.9" y1="324.4" x2="174.1" y2="324.4"/>
<line x1="177" y1="325.4" x2="191.2" y2="325.4"/>
<line x1="194.1" y1="331.6" x2="208.3" y2="331.6"/>
<line x1="216.3" y1="323.8" x2="230.5" y2="323.8"/>
<line x1="233.4" y1="322.4" x2="247.6" y2="322.4"/>
<line x1="250.5" y1="325.5" x2="264.7" y2="325.5"/>
<line x1="267.6" y1="325.1" x2="281.8" y2="325.1"/>
<line x1="284.7" y1="325.8" x2="298.9" y2="325.8"/>
<line x1="301.8" y1="323.9" x2="316" y2="323.9"/>
<line x1="318.9" y1="325.4" x2="333.1" y2="325.4"/>
<line x1="336" y1="328.4" x2="350.2" y2="328.4"/>
<line x1="353.1" y1="334.1" x2="367.3" y2="334.1"/>
<line x1="375.3" y1="324.5" x2="389.5" y2="324.5"/>
<line x1="392.4" y1="325" x2="406.6" y2="325"/>
<line x1="409.5" y1="327.4" x2="423.7" y2="327.4"/>
<line x1="426.6" y1="327" x2="440.8" y2="327"/>
<line x1="443.7" y1="328.1" x2="457.9" y2="328.1"/>
<line x1="460.8" y1="324.8" x2="475" y2="324.8"/>
<line x1="477.9" y1="327.3" x2="492.1" y2="327.3"/>
<line x1="495" y1="330.5" x2="509.2" y2="330.5"/>
<line x1="512.1" y1="336.7" x2="526.3" y2="336.7"/>
<line x1="57.3" y1="444.4" x2="71.5" y2="444.4"/>
<line x1="74.4" y1="443.2" x2="88.6" y2="443.2"/>
<line x1="91.5" y1="446.4" x2="105.7" y2="446.4"/>
<line x1="108.6" y1="446" x2="122.8" y2="446"/>
<line x1="125.7" y1="447.3" x2="139.9" y2="447.3"/>
<line x1="142.8" y1="443" x2="157" y2="443"/>
<line x1="159.9" y1="447.9" x2="174.1" y2="447.9"/>
<line x1="177" y1="447.6" x2="191.2" y2="447.6"/>
<line x1="194.1" y1="456.1" x2="208.3" y2="456.1"/>
<line x1="216.3" y1="445.5" x2="230.5" y2="445.5"/>
<line x1="233.4" y1="443.6" x2="247.6" y2="443.6"/>
<line x1="250.5" y1="448.3" x2="264.7" y2="448.3"/>
<line x1="267.6" y1="446.1" x2="281.8" y2="446.1"/>
<line x1="284.7" y1="447.6" x2="298.9" y2="447.6"/>
<line x1="301.8" y1="443.3" x2="316" y2="443.3"/>
<line x1="318.9" y1="447.9" x2="333.1" y2="447.9"/>
<line x1="336" y1="451" x2="350.2" y2="451"/>
<line x1="353.1" y1="456.9" x2="367.3" y2="456.9"/>
<line x1="375.3" y1="445.5" x2="389.5" y2="445.5"/>
<line x1="392.4" y1="446.4" x2="406.6" y2="446.4"/>
<line x1="409.5" y1="449.8" x2="423.7" y2="449.8"/>
<line x1="426.6" y1="447.6" x2="440.8" y2="447.6"/>
<line x1="443.7" y1="447.9" x2="457.9" y2="447.9"/>
<line x1="460.8" y1="445.3" x2="475" y2="445.3"/>
<line x1="477.9" y1="448.3" x2="492.1" y2="448.3"/>
<line x1="495" y1="451.4" x2="509.2" y2="451.4"/>
<line x1="512.1" y1="456.8" x2="526.3" y2="456.8"/>
</g>
<g fill="#000">
<rect x="62.9" y="72.8" width="3" height="3"/>
<rect x="80" y="72.8" width="3" height="3"/>
<rect x="97.1" y="74.7" width="3" height="3"/>
<rect x="114.2" y="76.6" width="3" height="3"/>
<rect x="131.3" y="74.7" width="3" height="3"/>
<rect x="148.4" y="75.1" width="3" height="3"/>
<rect x="165.5" y="75.6" width="3" height="3"/>
<rect x="182.6" y="80.7" width="3" height="3"/>
<rect x="199.7" y="85.4" width="3" height="3"/>
<rect x="221.9" y="74.5" width="3" height="3"/>
<rect x="239" y="74.2" width="3" height="3"/>
<rect x="256.1" y="78" width="3" height="3"/>
<rect x="273.2" y="79.4" width="3" height="3"/>
<rect x="290.3" y="77.3" width="3" height="3"/>
<rect x="307.4" y="78" width="3" height="3"/>
<rect x="324.5" y="77.5" width="3" height="3"/>
<rect x="341.6" y="81.5" width="3" height="3"/>
<rect x="358.7" y="87.7" width="3" height="3"/>
<rect x="380.9" y="76.6" width="3" height="3"/>
<rect x="398" y="76.4" width="3" height="3"/>
<rect x="415.1" y="79.9" width="3" height="3"/>
<rect x="432.2" y="81.5" width="3" height="3"/>
<rect x="449.3" y="78.5" width="3" height="3"/>
<rect x="466.4" y="79.4" width="3" height="3"/>
<rect x="483.5" y="80.2" width="3" height="3"/>
<rect x="500.6" y="83.9" width="3" height="3"/>
<rect x="517.7" y="90.4" width="3" height="3"/>
<rect x="62.9" y="197" width="3" height="3"/>
<rect x="80" y="197.3" width="3" height="3"/>
<rect x="97.1" y="197" width="3" height="3"/>
<rect x="114.2" y="199.8" width="3" height="3"/>
<rect x="131.3" y="198.4" width="3" height="3"/>
<rect x="148.4" y="197" width="3" height="3"/>
<rect x="165.5" y="198.6" width="3" height="3"/>
<rect x="182.6" y="201.2" width="3" height="3"/>
<rect x="199.7" y="208.5" width="3" height="3"/>
<rect x="221.9" y="198.4" width="3" height="3"/>
<rect x="239" y="198.6" width="3" height="3"/>
<rect x="256.1" y="200.5" width="3" height="3"/>
<rect x="273.2" y="201.7" width="3" height="3"/>
<rect x="290.3" y="199.3" width="3" height="3"/>
<rect x="307.4" y="199.8" width="3" height="3"/>
<rect x="324.5" y="200.1" width="3" height="3"/>
<rect x="341.6" y="204.5" width="3" height="3"/>
<rect x="358.7" y="209.3" width="3" height="3"/>
<rect x="380.9" y="200.1" width="3" height="3"/>
<rect x="398" y="200.3" width="3" height="3"/>
<rect x="415.1" y="201.7" width="3" height="3"/>
<rect x="432.2" y="203.1" width="3" height="3"/>
<rect x="449.3" y="201" width="3" height="3"/>
<rect x="466.4" y="200.3" width="3" height="3"/>
<rect x="483.5" y="201.2" width="3" height="3"/>
<rect x="500.6" y="206.4" width="3" height="3"/>
<rect x="517.7" y="212.6" width="3" height="3"/>
<rect x="62.9" y="320.8" width="3" height="3"/>
<rect x="80" y="320.5" width="3" height="3"/>
<rect x="97.1" y="321.7" width="3" height="3"/>
<rect x="114.2" y="323.9" width="3" height="3"/>
<rect x="131.3" y="321.4" width="3" height="3"/>
<rect x="148.4" y="321" width="3" height="3"/>
<rect x="165.5" y="322.9" width="3" height="3"/>
<rect x="182.6" y="328.3" width="3" height="3"/>
<rect x="199.7" y="332.5" width="3" height="3"/>
<rect x="221.9" y="322.3" width="3" height="3"/>
<rect x="239" y="320.9" width="3" height="3"/>
<rect x="256.1" y="324" width="3" height="3"/>
<rect x="273.2" y="323.6" width="3" height="3"/>
<rect x="290.3" y="324.3" width="3" height="3"/>
<rect x="307.4" y="322.4" width="3" height="3"/>
<rect x="324.5" y="323.9" width="3" height="3"/>
<rect x="341.6" y="329.3" width="3" height="3"/>
<rect x="358.7" y="332.6" width="3" height="3"/>
<rect x="380.9" y="323" width="3" height="3"/>
<rect x="398" y="323.5" width="3" height="3"/>
<rect x="415.1" y="325.9" width="3" height="3"/>
<rect x="432.2" y="325.5" width="3" height="3"/>
<rect x="449.3" y="324.3" width="3" height="3"/>
<rect x="466.4" y="323.3" width="3" height="3"/>
<rect x="483.5" y="325.8" width="3" height="3"/>
<rect x="500.6" y="331.2" width="3" height="3"/>
<rect x="517.7" y="337.1" width="3" height="3"/>
<rect x="62.9" y="442.9" width="3" height="3"/>
<rect x="80" y="441.7" width="3" height="3"/>
<rect x="97.1" y="444.9" width="3" height="3"/>
<rect x="114.2" y="444.5" width="3" height="3"/>
<rect x="131.3" y="443.9" width="3" height="3"/>
<rect x="148.4" y="441.5" width="3" height="3"/>
<rect x="165.5" y="446.4" width="3" height="3"/>
<rect x="182.6" y="446.1" width="3" height="3"/>
<rect x="199.7" y="456.9" width="3" height="3"/>
<rect x="221.9" y="444" width="3" height="3"/>
<rect x="239" y="442.1" width="3" height="3"/>
<rect x="256.1" y="448.8" width="3" height="3"/>
<rect x="273.2" y="444.6" width="3" height="3"/>
<rect x="290.3" y="446.1" width="3" height="3"/>
<rect x="307.4" y="441.8" width="3" height="3"/>
<rect x="324.5" y="448.8" width="3" height="3"/>
<rect x="341.6" y="449.5" width="3" height="3"/>
<rect x="358.7" y="459.2" width="3" height="3"/>
<rect x="380.9" y="444" width="3" height="3"/>
<rect x="398" y="444.9" width="3" height="3"/>
<rect x="415.1" y="448.3" width="3" height="3"/>
<rect x="432.2" y="446.1" width="3" height="3"/>
<rect x="449.3" y="446.4" width="3" height="3"/>
<rect x="466.4" y="443.8" width="3" height="3"/>
<rect x="483.5" y="449.1" width="3" height="3"/>
<rect x="500.6" y="449.9" width="3" height="3"/>
<rect x="517.7" y="459.6" width="3" height="3"/>
</g>
<g stroke="#000" stroke-width="0.95" fill="none">
<circle cx="81.5" cy="84.5" r="2.05"/>
<circle cx="98.6" cy="97.7" r="2.05"/>
<circle cx="115.7" cy="86.8" r="2.05"/>
<circle cx="115.7" cy="98.4" r="2.05"/>
<circle cx="149.9" cy="97" r="2.05"/>
<circle cx="167" cy="87" r="2.05"/>
<circle cx="167" cy="91.3" r="2.05"/>
<circle cx="184.1" cy="99.6" r="2.05"/>
<circle cx="257.6" cy="97.7" r="2.05"/>
<circle cx="274.7" cy="98.7" r="2.05"/>
<circle cx="308.9" cy="97.2" r="2.05"/>
<circle cx="343.1" cy="99.6" r="2.05"/>
<circle cx="416.6" cy="97.7" r="2.05"/>
<circle cx="433.7" cy="98.7" r="2.05"/>
<circle cx="467.9" cy="97.2" r="2.05"/>
<circle cx="502.1" cy="99.6" r="2.05"/>
<circle cx="64.4" cy="187.6" r="2.05"/>
<circle cx="64.4" cy="210.1" r="2.05"/>
<circle cx="81.5" cy="187.6" r="2.05"/>
<circle cx="81.5" cy="211.3" r="2.05"/>
<circle cx="98.6" cy="222.4" r="2.05"/>
<circle cx="115.7" cy="218.6" r="2.05"/>
<circle cx="132.8" cy="186.8" r="2.05"/>
<circle cx="132.8" cy="211.4" r="2.05"/>
<circle cx="149.9" cy="220.9" r="2.05"/>
<circle cx="167" cy="209.5" r="2.05"/>
<circle cx="167" cy="215.8" r="2.05"/>
<circle cx="184.1" cy="218.4" r="2.05"/>
<circle cx="184.1" cy="228.1" r="2.05"/>
<circle cx="201.2" cy="218.8" r="2.05"/>
<circle cx="201.2" cy="227.3" r="2.05"/>
<circle cx="223.4" cy="187.6" r="2.05"/>
<circle cx="257.6" cy="222.4" r="2.05"/>
<circle cx="291.8" cy="186.8" r="2.05"/>
<circle cx="308.9" cy="220.9" r="2.05"/>
<circle cx="343.1" cy="227.8" r="2.05"/>
<circle cx="360.2" cy="227.6" r="2.05"/>
<circle cx="360.2" cy="228.6" r="2.05"/>
<circle cx="382.4" cy="187.4" r="2.05"/>
<circle cx="399.5" cy="187.4" r="2.05"/>
<circle cx="416.6" cy="222.4" r="2.05"/>
<circle cx="450.8" cy="186.8" r="2.05"/>
<circle cx="467.9" cy="220.9" r="2.05"/>
<circle cx="502.1" cy="228" r="2.05"/>
<circle cx="519.2" cy="234.4" r="2.05"/>
<circle cx="81.5" cy="334.6" r="2.05"/>
<circle cx="98.6" cy="336.5" r="2.05"/>
<circle cx="98.6" cy="339" r="2.05"/>
<circle cx="115.7" cy="338.1" r="2.05"/>
<circle cx="132.8" cy="307.3" r="2.05"/>
<circle cx="132.8" cy="310.2" r="2.05"/>
<circle cx="132.8" cy="335.7" r="2.05"/>
<circle cx="149.9" cy="303.5" r="2.05"/>
<circle cx="149.9" cy="353.7" r="2.05"/>
<circle cx="167" cy="341" r="2.05"/>
<circle cx="184.1" cy="377.6" r="2.05"/>
<circle cx="201.2" cy="320.8" r="2.05"/>
<circle cx="201.2" cy="355.7" r="2.05"/>
<circle cx="240.5" cy="310.8" r="2.05"/>
<circle cx="240.5" cy="336.4" r="2.05"/>
<circle cx="274.7" cy="338.6" r="2.05"/>
<circle cx="274.7" cy="339.4" r="2.05"/>
<circle cx="291.8" cy="307.8" r="2.05"/>
<circle cx="308.9" cy="303.5" r="2.05"/>
<circle cx="308.9" cy="354" r="2.05"/>
<circle cx="343.1" cy="377.5" r="2.05"/>
<circle cx="360.2" cy="351.4" r="2.05"/>
<circle cx="360.2" cy="355.7" r="2.05"/>
<circle cx="416.6" cy="340.4" r="2.05"/>
<circle cx="450.8" cy="307.8" r="2.05"/>
<circle cx="467.9" cy="354" r="2.05"/>
<circle cx="502.1" cy="377.5" r="2.05"/>
<circle cx="64.4" cy="414.7" r="2.05"/>
<circle cx="64.4" cy="428.7" r="2.05"/>
<circle cx="64.4" cy="461.4" r="2.05"/>
<circle cx="98.6" cy="412" r="2.05"/>
<circle cx="98.6" cy="465" r="2.05"/>
<circle cx="115.7" cy="474.6" r="2.05"/>
<circle cx="132.8" cy="405.7" r="2.05"/>
<circle cx="132.8" cy="430.5" r="2.05"/>
<circle cx="132.8" cy="461.3" r="2.05"/>
<circle cx="149.9" cy="407.8" r="2.05"/>
<circle cx="149.9" cy="464.5" r="2.05"/>
<circle cx="167" cy="422" r="2.05"/>
<circle cx="167" cy="470" r="2.05"/>
<circle cx="201.2" cy="488.6" r="2.05"/>
<circle cx="201.2" cy="492.6" r="2.05"/>
<circle cx="223.4" cy="414.6" r="2.05"/>
<circle cx="223.4" cy="429" r="2.05"/>
<circle cx="223.4" cy="461.1" r="2.05"/>
<circle cx="257.6" cy="471" r="2.05"/>
<circle cx="291.8" cy="406.1" r="2.05"/>
<circle cx="291.8" cy="430.6" r="2.05"/>
<circle cx="308.9" cy="408.2" r="2.05"/>
<circle cx="308.9" cy="464.7" r="2.05"/>
<circle cx="308.9" cy="467.4" r="2.05"/>
<circle cx="326" cy="422" r="2.05"/>
<circle cx="326" cy="470" r="2.05"/>
<circle cx="360.2" cy="488.6" r="2.05"/>
<circle cx="360.2" cy="492.2" r="2.05"/>
<circle cx="382.4" cy="414.6" r="2.05"/>
<circle cx="382.4" cy="429" r="2.05"/>
<circle cx="382.4" cy="461.1" r="2.05"/>
<circle cx="399.5" cy="427.3" r="2.05"/>
<circle cx="416.6" cy="471" r="2.05"/>
<circle cx="450.8" cy="406.1" r="2.05"/>
<circle cx="467.9" cy="408.2" r="2.05"/>
<circle cx="485" cy="422" r="2.05"/>
</g>
<g stroke="#222" stroke-width="1.1" fill="none">
<rect x="53.5" y="19.8" width="159" height="123.3"/>
<rect x="212.5" y="19.8" width="159" height="123.3"/>
<rect x="371.5" y="19.8" width="159" height="123.3"/>
<rect x="53.5" y="143.1" width="159" height="123.2"/>
<rect x="212.5" y="143.1" width="159" height="123.2"/>
<rect x="371.5" y="143.1" width="159" height="123.2"/>
<rect x="53.5" y="266.3" width="159" height="123.2"/>
<rect x="212.5" y="266.3" width="159" height="123.2"/>
<rect x="371.5" y="266.3" width="159" height="123.2"/>
<rect x="53.5" y="389.5" width="159" height="122.9"/>
<rect x="212.5" y="389.5" width="159" height="122.9"/>
<rect x="371.5" y="389.5" width="159" height="122.9"/>
</g>
<g stroke="#000" stroke-width="1" fill="none">
<line x1="49.9" y1="28.61" x2="53.5" y2="28.61"/>
<line x1="49.9" y1="37.41" x2="53.5" y2="37.41"/>
<line x1="49.9" y1="46.22" x2="53.5" y2="46.22"/>
<line x1="49.9" y1="55.03" x2="53.5" y2="55.03"/>
<line x1="49.9" y1="63.84" x2="53.5" y2="63.84"/>
<line x1="49.9" y1="72.64" x2="53.5" y2="72.64"/>
<line x1="49.9" y1="81.45" x2="53.5" y2="81.45"/>
<line x1="49.9" y1="90.26" x2="53.5" y2="90.26"/>
<line x1="49.9" y1="99.06" x2="53.5" y2="99.06"/>
<line x1="49.9" y1="107.87" x2="53.5" y2="107.87"/>
<line x1="49.9" y1="116.68" x2="53.5" y2="116.68"/>
<line x1="49.9" y1="125.49" x2="53.5" y2="125.49"/>
<line x1="49.9" y1="134.29" x2="53.5" y2="134.29"/>
<line x1="64.4" y1="143.1" x2="64.4" y2="146.7"/>
<line x1="81.5" y1="143.1" x2="81.5" y2="146.7"/>
<line x1="98.6" y1="143.1" x2="98.6" y2="146.7"/>
<line x1="115.7" y1="143.1" x2="115.7" y2="146.7"/>
<line x1="132.8" y1="143.1" x2="132.8" y2="146.7"/>
<line x1="149.9" y1="143.1" x2="149.9" y2="146.7"/>
<line x1="167" y1="143.1" x2="167" y2="146.7"/>
<line x1="184.1" y1="143.1" x2="184.1" y2="146.7"/>
<line x1="201.2" y1="143.1" x2="201.2" y2="146.7"/>
<line x1="208.9" y1="28.61" x2="212.5" y2="28.61"/>
<line x1="208.9" y1="37.41" x2="212.5" y2="37.41"/>
<line x1="208.9" y1="46.22" x2="212.5" y2="46.22"/>
<line x1="208.9" y1="55.03" x2="212.5" y2="55.03"/>
<line x1="208.9" y1="63.84" x2="212.5" y2="63.84"/>
<line x1="208.9" y1="72.64" x2="212.5" y2="72.64"/>
<line x1="208.9" y1="81.45" x2="212.5" y2="81.45"/>
<line x1="208.9" y1="90.26" x2="212.5" y2="90.26"/>
<line x1="208.9" y1="99.06" x2="212.5" y2="99.06"/>
<line x1="208.9" y1="107.87" x2="212.5" y2="107.87"/>
<line x1="208.9" y1="116.68" x2="212.5" y2="116.68"/>
<line x1="208.9" y1="125.49" x2="212.5" y2="125.49"/>
<line x1="208.9" y1="134.29" x2="212.5" y2="134.29"/>
<line x1="223.4" y1="143.1" x2="223.4" y2="146.7"/>
<line x1="240.5" y1="143.1" x2="240.5" y2="146.7"/>
<line x1="257.6" y1="143.1" x2="257.6" y2="146.7"/>
<line x1="274.7" y1="143.1" x2="274.7" y2="146.7"/>
<line x1="291.8" y1="143.1" x2="291.8" y2="146.7"/>
<line x1="308.9" y1="143.1" x2="308.9" y2="146.7"/>
<line x1="326" y1="143.1" x2="326" y2="146.7"/>
<line x1="343.1" y1="143.1" x2="343.1" y2="146.7"/>
<line x1="360.2" y1="143.1" x2="360.2" y2="146.7"/>
<line x1="367.9" y1="28.61" x2="371.5" y2="28.61"/>
<line x1="367.9" y1="37.41" x2="371.5" y2="37.41"/>
<line x1="367.9" y1="46.22" x2="371.5" y2="46.22"/>
<line x1="367.9" y1="55.03" x2="371.5" y2="55.03"/>
<line x1="367.9" y1="63.84" x2="371.5" y2="63.84"/>
<line x1="367.9" y1="72.64" x2="371.5" y2="72.64"/>
<line x1="367.9" y1="81.45" x2="371.5" y2="81.45"/>
<line x1="367.9" y1="90.26" x2="371.5" y2="90.26"/>
<line x1="367.9" y1="99.06" x2="371.5" y2="99.06"/>
<line x1="367.9" y1="107.87" x2="371.5" y2="107.87"/>
<line x1="367.9" y1="116.68" x2="371.5" y2="116.68"/>
<line x1="367.9" y1="125.49" x2="371.5" y2="125.49"/>
<line x1="367.9" y1="134.29" x2="371.5" y2="134.29"/>
<line x1="382.4" y1="143.1" x2="382.4" y2="146.7"/>
<line x1="399.5" y1="143.1" x2="399.5" y2="146.7"/>
<line x1="416.6" y1="143.1" x2="416.6" y2="146.7"/>
<line x1="433.7" y1="143.1" x2="433.7" y2="146.7"/>
<line x1="450.8" y1="143.1" x2="450.8" y2="146.7"/>
<line x1="467.9" y1="143.1" x2="467.9" y2="146.7"/>
<line x1="485" y1="143.1" x2="485" y2="146.7"/>
<line x1="502.1" y1="143.1" x2="502.1" y2="146.7"/>
<line x1="519.2" y1="143.1" x2="519.2" y2="146.7"/>
<line x1="49.9" y1="151.9" x2="53.5" y2="151.9"/>
<line x1="49.9" y1="160.7" x2="53.5" y2="160.7"/>
<line x1="49.9" y1="169.5" x2="53.5" y2="169.5"/>
<line x1="49.9" y1="178.3" x2="53.5" y2="178.3"/>
<line x1="49.9" y1="187.1" x2="53.5" y2="187.1"/>
<line x1="49.9" y1="195.9" x2="53.5" y2="195.9"/>
<line x1="49.9" y1="204.7" x2="53.5" y2="204.7"/>
<line x1="49.9" y1="213.5" x2="53.5" y2="213.5"/>
<line x1="49.9" y1="222.3" x2="53.5" y2="222.3"/>
<line x1="49.9" y1="231.1" x2="53.5" y2="231.1"/>
<line x1="49.9" y1="239.9" x2="53.5" y2="239.9"/>
<line x1="49.9" y1="248.7" x2="53.5" y2="248.7"/>
<line x1="49.9" y1="257.5" x2="53.5" y2="257.5"/>
<line x1="64.4" y1="266.3" x2="64.4" y2="269.9"/>
<line x1="81.5" y1="266.3" x2="81.5" y2="269.9"/>
<line x1="98.6" y1="266.3" x2="98.6" y2="269.9"/>
<line x1="115.7" y1="266.3" x2="115.7" y2="269.9"/>
<line x1="132.8" y1="266.3" x2="132.8" y2="269.9"/>
<line x1="149.9" y1="266.3" x2="149.9" y2="269.9"/>
<line x1="167" y1="266.3" x2="167" y2="269.9"/>
<line x1="184.1" y1="266.3" x2="184.1" y2="269.9"/>
<line x1="201.2" y1="266.3" x2="201.2" y2="269.9"/>
<line x1="208.9" y1="151.9" x2="212.5" y2="151.9"/>
<line x1="208.9" y1="160.7" x2="212.5" y2="160.7"/>
<line x1="208.9" y1="169.5" x2="212.5" y2="169.5"/>
<line x1="208.9" y1="178.3" x2="212.5" y2="178.3"/>
<line x1="208.9" y1="187.1" x2="212.5" y2="187.1"/>
<line x1="208.9" y1="195.9" x2="212.5" y2="195.9"/>
<line x1="208.9" y1="204.7" x2="212.5" y2="204.7"/>
<line x1="208.9" y1="213.5" x2="212.5" y2="213.5"/>
<line x1="208.9" y1="222.3" x2="212.5" y2="222.3"/>
<line x1="208.9" y1="231.1" x2="212.5" y2="231.1"/>
<line x1="208.9" y1="239.9" x2="212.5" y2="239.9"/>
<line x1="208.9" y1="248.7" x2="212.5" y2="248.7"/>
<line x1="208.9" y1="257.5" x2="212.5" y2="257.5"/>
<line x1="223.4" y1="266.3" x2="223.4" y2="269.9"/>
<line x1="240.5" y1="266.3" x2="240.5" y2="269.9"/>
<line x1="257.6" y1="266.3" x2="257.6" y2="269.9"/>
<line x1="274.7" y1="266.3" x2="274.7" y2="269.9"/>
<line x1="291.8" y1="266.3" x2="291.8" y2="269.9"/>
<line x1="308.9" y1="266.3" x2="308.9" y2="269.9"/>
<line x1="326" y1="266.3" x2="326" y2="269.9"/>
<line x1="343.1" y1="266.3" x2="343.1" y2="269.9"/>
<line x1="360.2" y1="266.3" x2="360.2" y2="269.9"/>
<line x1="367.9" y1="151.9" x2="371.5" y2="151.9"/>
<line x1="367.9" y1="160.7" x2="371.5" y2="160.7"/>
<line x1="367.9" y1="169.5" x2="371.5" y2="169.5"/>
<line x1="367.9" y1="178.3" x2="371.5" y2="178.3"/>
<line x1="367.9" y1="187.1" x2="371.5" y2="187.1"/>
<line x1="367.9" y1="195.9" x2="371.5" y2="195.9"/>
<line x1="367.9" y1="204.7" x2="371.5" y2="204.7"/>
<line x1="367.9" y1="213.5" x2="371.5" y2="213.5"/>
<line x1="367.9" y1="222.3" x2="371.5" y2="222.3"/>
<line x1="367.9" y1="231.1" x2="371.5" y2="231.1"/>
<line x1="367.9" y1="239.9" x2="371.5" y2="239.9"/>
<line x1="367.9" y1="248.7" x2="371.5" y2="248.7"/>
<line x1="367.9" y1="257.5" x2="371.5" y2="257.5"/>
<line x1="382.4" y1="266.3" x2="382.4" y2="269.9"/>
<line x1="399.5" y1="266.3" x2="399.5" y2="269.9"/>
<line x1="416.6" y1="266.3" x2="416.6" y2="269.9"/>
<line x1="433.7" y1="266.3" x2="433.7" y2="269.9"/>
<line x1="450.8" y1="266.3" x2="450.8" y2="269.9"/>
<line x1="467.9" y1="266.3" x2="467.9" y2="269.9"/>
<line x1="485" y1="266.3" x2="485" y2="269.9"/>
<line x1="502.1" y1="266.3" x2="502.1" y2="269.9"/>
<line x1="519.2" y1="266.3" x2="519.2" y2="269.9"/>
<line x1="49.9" y1="275.1" x2="53.5" y2="275.1"/>
<line x1="49.9" y1="283.9" x2="53.5" y2="283.9"/>
<line x1="49.9" y1="292.7" x2="53.5" y2="292.7"/>
<line x1="49.9" y1="301.5" x2="53.5" y2="301.5"/>
<line x1="49.9" y1="310.3" x2="53.5" y2="310.3"/>
<line x1="49.9" y1="319.1" x2="53.5" y2="319.1"/>
<line x1="49.9" y1="327.9" x2="53.5" y2="327.9"/>
<line x1="49.9" y1="336.7" x2="53.5" y2="336.7"/>
<line x1="49.9" y1="345.5" x2="53.5" y2="345.5"/>
<line x1="49.9" y1="354.3" x2="53.5" y2="354.3"/>
<line x1="49.9" y1="363.1" x2="53.5" y2="363.1"/>
<line x1="49.9" y1="371.9" x2="53.5" y2="371.9"/>
<line x1="49.9" y1="380.7" x2="53.5" y2="380.7"/>
<line x1="64.4" y1="389.5" x2="64.4" y2="393.1"/>
<line x1="81.5" y1="389.5" x2="81.5" y2="393.1"/>
<line x1="98.6" y1="389.5" x2="98.6" y2="393.1"/>
<line x1="115.7" y1="389.5" x2="115.7" y2="393.1"/>
<line x1="132.8" y1="389.5" x2="132.8" y2="393.1"/>
<line x1="149.9" y1="389.5" x2="149.9" y2="393.1"/>
<line x1="167" y1="389.5" x2="167" y2="393.1"/>
<line x1="184.1" y1="389.5" x2="184.1" y2="393.1"/>
<line x1="201.2" y1="389.5" x2="201.2" y2="393.1"/>
<line x1="208.9" y1="275.1" x2="212.5" y2="275.1"/>
<line x1="208.9" y1="283.9" x2="212.5" y2="283.9"/>
<line x1="208.9" y1="292.7" x2="212.5" y2="292.7"/>
<line x1="208.9" y1="301.5" x2="212.5" y2="301.5"/>
<line x1="208.9" y1="310.3" x2="212.5" y2="310.3"/>
<line x1="208.9" y1="319.1" x2="212.5" y2="319.1"/>
<line x1="208.9" y1="327.9" x2="212.5" y2="327.9"/>
<line x1="208.9" y1="336.7" x2="212.5" y2="336.7"/>
<line x1="208.9" y1="345.5" x2="212.5" y2="345.5"/>
<line x1="208.9" y1="354.3" x2="212.5" y2="354.3"/>
<line x1="208.9" y1="363.1" x2="212.5" y2="363.1"/>
<line x1="208.9" y1="371.9" x2="212.5" y2="371.9"/>
<line x1="208.9" y1="380.7" x2="212.5" y2="380.7"/>
<line x1="223.4" y1="389.5" x2="223.4" y2="393.1"/>
<line x1="240.5" y1="389.5" x2="240.5" y2="393.1"/>
<line x1="257.6" y1="389.5" x2="257.6" y2="393.1"/>
<line x1="274.7" y1="389.5" x2="274.7" y2="393.1"/>
<line x1="291.8" y1="389.5" x2="291.8" y2="393.1"/>
<line x1="308.9" y1="389.5" x2="308.9" y2="393.1"/>
<line x1="326" y1="389.5" x2="326" y2="393.1"/>
<line x1="343.1" y1="389.5" x2="343.1" y2="393.1"/>
<line x1="360.2" y1="389.5" x2="360.2" y2="393.1"/>
<line x1="367.9" y1="275.1" x2="371.5" y2="275.1"/>
<line x1="367.9" y1="283.9" x2="371.5" y2="283.9"/>
<line x1="367.9" y1="292.7" x2="371.5" y2="292.7"/>
<line x1="367.9" y1="301.5" x2="371.5" y2="301.5"/>
<line x1="367.9" y1="310.3" x2="371.5" y2="310.3"/>
<line x1="367.9" y1="319.1" x2="371.5" y2="319.1"/>
<line x1="367.9" y1="327.9" x2="371.5" y2="327.9"/>
<line x1="367.9" y1="336.7" x2="371.5" y2="336.7"/>
<line x1="367.9" y1="345.5" x2="371.5" y2="345.5"/>
<line x1="367.9" y1="354.3" x2="371.5" y2="354.3"/>
<line x1="367.9" y1="363.1" x2="371.5" y2="363.1"/>
<line x1="367.9" y1="371.9" x2="371.5" y2="371.9"/>
<line x1="367.9" y1="380.7" x2="371.5" y2="380.7"/>
<line x1="382.4" y1="389.5" x2="382.4" y2="393.1"/>
<line x1="399.5" y1="389.5" x2="399.5" y2="393.1"/>
<line x1="416.6" y1="389.5" x2="416.6" y2="393.1"/>
<line x1="433.7" y1="389.5" x2="433.7" y2="393.1"/>
<line x1="450.8" y1="389.5" x2="450.8" y2="393.1"/>
<line x1="467.9" y1="389.5" x2="467.9" y2="393.1"/>
<line x1="485" y1="389.5" x2="485" y2="393.1"/>
<line x1="502.1" y1="389.5" x2="502.1" y2="393.1"/>
<line x1="519.2" y1="389.5" x2="519.2" y2="393.1"/>
<line x1="49.9" y1="398.28" x2="53.5" y2="398.28"/>
<line x1="49.9" y1="407.06" x2="53.5" y2="407.06"/>
<line x1="49.9" y1="415.84" x2="53.5" y2="415.84"/>
<line x1="49.9" y1="424.61" x2="53.5" y2="424.61"/>
<line x1="49.9" y1="433.39" x2="53.5" y2="433.39"/>
<line x1="49.9" y1="442.17" x2="53.5" y2="442.17"/>
<line x1="49.9" y1="450.95" x2="53.5" y2="450.95"/>
<line x1="49.9" y1="459.73" x2="53.5" y2="459.73"/>
<line x1="49.9" y1="468.51" x2="53.5" y2="468.51"/>
<line x1="49.9" y1="477.29" x2="53.5" y2="477.29"/>
<line x1="49.9" y1="486.06" x2="53.5" y2="486.06"/>
<line x1="49.9" y1="494.84" x2="53.5" y2="494.84"/>
<line x1="49.9" y1="503.62" x2="53.5" y2="503.62"/>
<line x1="64.4" y1="512.4" x2="64.4" y2="516"/>
<line x1="81.5" y1="512.4" x2="81.5" y2="516"/>
<line x1="98.6" y1="512.4" x2="98.6" y2="516"/>
<line x1="115.7" y1="512.4" x2="115.7" y2="516"/>
<line x1="132.8" y1="512.4" x2="132.8" y2="516"/>
<line x1="149.9" y1="512.4" x2="149.9" y2="516"/>
<line x1="167" y1="512.4" x2="167" y2="516"/>
<line x1="184.1" y1="512.4" x2="184.1" y2="516"/>
<line x1="201.2" y1="512.4" x2="201.2" y2="516"/>
<line x1="208.9" y1="398.28" x2="212.5" y2="398.28"/>
<line x1="208.9" y1="407.06" x2="212.5" y2="407.06"/>
<line x1="208.9" y1="415.84" x2="212.5" y2="415.84"/>
<line x1="208.9" y1="424.61" x2="212.5" y2="424.61"/>
<line x1="208.9" y1="433.39" x2="212.5" y2="433.39"/>
<line x1="208.9" y1="442.17" x2="212.5" y2="442.17"/>
<line x1="208.9" y1="450.95" x2="212.5" y2="450.95"/>
<line x1="208.9" y1="459.73" x2="212.5" y2="459.73"/>
<line x1="208.9" y1="468.51" x2="212.5" y2="468.51"/>
<line x1="208.9" y1="477.29" x2="212.5" y2="477.29"/>
<line x1="208.9" y1="486.06" x2="212.5" y2="486.06"/>
<line x1="208.9" y1="494.84" x2="212.5" y2="494.84"/>
<line x1="208.9" y1="503.62" x2="212.5" y2="503.62"/>
<line x1="223.4" y1="512.4" x2="223.4" y2="516"/>
<line x1="240.5" y1="512.4" x2="240.5" y2="516"/>
<line x1="257.6" y1="512.4" x2="257.6" y2="516"/>
<line x1="274.7" y1="512.4" x2="274.7" y2="516"/>
<line x1="291.8" y1="512.4" x2="291.8" y2="516"/>
<line x1="308.9" y1="512.4" x2="308.9" y2="516"/>
<line x1="326" y1="512.4" x2="326" y2="516"/>
<line x1="343.1" y1="512.4" x2="343.1" y2="516"/>
<line x1="360.2" y1="512.4" x2="360.2" y2="516"/>
<line x1="367.9" y1="398.28" x2="371.5" y2="398.28"/>
<line x1="367.9" y1="407.06" x2="371.5" y2="407.06"/>
<line x1="367.9" y1="415.84" x2="371.5" y2="415.84"/>
<line x1="367.9" y1="424.61" x2="371.5" y2="424.61"/>
<line x1="367.9" y1="433.39" x2="371.5" y2="433.39"/>
<line x1="367.9" y1="442.17" x2="371.5" y2="442.17"/>
<line x1="367.9" y1="450.95" x2="371.5" y2="450.95"/>
<line x1="367.9" y1="459.73" x2="371.5" y2="459.73"/>
<line x1="367.9" y1="468.51" x2="371.5" y2="468.51"/>
<line x1="367.9" y1="477.29" x2="371.5" y2="477.29"/>
<line x1="367.9" y1="486.06" x2="371.5" y2="486.06"/>
<line x1="367.9" y1="494.84" x2="371.5" y2="494.84"/>
<line x1="367.9" y1="503.62" x2="371.5" y2="503.62"/>
<line x1="382.4" y1="512.4" x2="382.4" y2="516"/>
<line x1="399.5" y1="512.4" x2="399.5" y2="516"/>
<line x1="416.6" y1="512.4" x2="416.6" y2="516"/>
<line x1="433.7" y1="512.4" x2="433.7" y2="516"/>
<line x1="450.8" y1="512.4" x2="450.8" y2="516"/>
<line x1="467.9" y1="512.4" x2="467.9" y2="516"/>
<line x1="485" y1="512.4" x2="485" y2="516"/>
<line x1="502.1" y1="512.4" x2="502.1" y2="516"/>
<line x1="519.2" y1="512.4" x2="519.2" y2="516"/>
</g>
<g fill="#000" stroke="#000" stroke-width="0.05" stroke-linejoin="round">
<text font-size="10" text-anchor="end" transform="translate(45.7 32.31) scale(1.02 1)">10</text>
<text font-size="10" text-anchor="end" transform="translate(45.7 49.92) scale(1.02 1)">6</text>
<text font-size="10" text-anchor="end" transform="translate(45.7 67.54) scale(1.02 1)">2</text>
<text font-size="10" text-anchor="end" transform="translate(45.7 85.15) scale(1.02 1)">-2</text>
<text font-size="10" text-anchor="end" transform="translate(45.7 102.76) scale(1.02 1)">-6</text>
<text font-size="10" text-anchor="end" transform="translate(45.7 120.38) scale(1.02 1)">-10</text>
<text font-size="10" text-anchor="end" transform="translate(45.7 137.99) scale(1.02 1)">-14</text>
<text font-size="10" text-anchor="end" transform="translate(45.7 155.6) scale(1.02 1)">10</text>
<text font-size="10" text-anchor="end" transform="translate(45.7 173.2) scale(1.02 1)">6</text>
<text font-size="10" text-anchor="end" transform="translate(45.7 190.8) scale(1.02 1)">2</text>
<text font-size="10" text-anchor="end" transform="translate(45.7 208.4) scale(1.02 1)">-2</text>
<text font-size="10" text-anchor="end" transform="translate(45.7 226) scale(1.02 1)">-6</text>
<text font-size="10" text-anchor="end" transform="translate(45.7 243.6) scale(1.02 1)">-10</text>
<text font-size="10" text-anchor="end" transform="translate(45.7 261.2) scale(1.02 1)">-14</text>
<text font-size="10" text-anchor="end" transform="translate(45.7 278.8) scale(1.02 1)">10</text>
<text font-size="10" text-anchor="end" transform="translate(45.7 296.4) scale(1.02 1)">6</text>
<text font-size="10" text-anchor="end" transform="translate(45.7 314) scale(1.02 1)">2</text>
<text font-size="10" text-anchor="end" transform="translate(45.7 331.6) scale(1.02 1)">-2</text>
<text font-size="10" text-anchor="end" transform="translate(45.7 349.2) scale(1.02 1)">-6</text>
<text font-size="10" text-anchor="end" transform="translate(45.7 366.8) scale(1.02 1)">-10</text>
<text font-size="10" text-anchor="end" transform="translate(45.7 384.4) scale(1.02 1)">-14</text>
<text font-size="10" text-anchor="end" transform="translate(45.7 401.98) scale(1.02 1)">10</text>
<text font-size="10" text-anchor="end" transform="translate(45.7 419.54) scale(1.02 1)">6</text>
<text font-size="10" text-anchor="end" transform="translate(45.7 437.09) scale(1.02 1)">2</text>
<text font-size="10" text-anchor="end" transform="translate(45.7 454.65) scale(1.02 1)">-2</text>
<text font-size="10" text-anchor="end" transform="translate(45.7 472.21) scale(1.02 1)">-6</text>
<text font-size="10" text-anchor="end" transform="translate(45.7 489.76) scale(1.02 1)">-10</text>
<text font-size="10" text-anchor="end" transform="translate(45.7 507.32) scale(1.02 1)">-14</text>
<text font-size="10.1" text-anchor="middle" transform="translate(64.4 526) scale(1.05 1)">1</text>
<text font-size="10.1" text-anchor="middle" transform="translate(81.5 526) scale(1.05 1)">2</text>
<text font-size="10.1" text-anchor="middle" transform="translate(98.6 526) scale(1.05 1)">3</text>
<text font-size="10.1" text-anchor="middle" transform="translate(115.7 526) scale(1.05 1)">4</text>
<text font-size="10.1" text-anchor="middle" transform="translate(132.8 526) scale(1.05 1)">5</text>
<text font-size="10.1" text-anchor="middle" transform="translate(149.9 526) scale(1.05 1)">6</text>
<text font-size="10.1" text-anchor="middle" transform="translate(167 526) scale(1.05 1)">7</text>
<text font-size="10.1" text-anchor="middle" transform="translate(184.1 526) scale(1.05 1)">8</text>
<text font-size="10.1" text-anchor="middle" transform="translate(201.2 526) scale(1.05 1)">9</text>
<text font-size="10.1" text-anchor="middle" transform="translate(223.4 526) scale(1.05 1)">1</text>
<text font-size="10.1" text-anchor="middle" transform="translate(240.5 526) scale(1.05 1)">2</text>
<text font-size="10.1" text-anchor="middle" transform="translate(257.6 526) scale(1.05 1)">3</text>
<text font-size="10.1" text-anchor="middle" transform="translate(274.7 526) scale(1.05 1)">4</text>
<text font-size="10.1" text-anchor="middle" transform="translate(291.8 526) scale(1.05 1)">5</text>
<text font-size="10.1" text-anchor="middle" transform="translate(308.9 526) scale(1.05 1)">6</text>
<text font-size="10.1" text-anchor="middle" transform="translate(326 526) scale(1.05 1)">7</text>
<text font-size="10.1" text-anchor="middle" transform="translate(343.1 526) scale(1.05 1)">8</text>
<text font-size="10.1" text-anchor="middle" transform="translate(360.2 526) scale(1.05 1)">9</text>
<text font-size="10.1" text-anchor="middle" transform="translate(382.4 526) scale(1.05 1)">1</text>
<text font-size="10.1" text-anchor="middle" transform="translate(399.5 526) scale(1.05 1)">2</text>
<text font-size="10.1" text-anchor="middle" transform="translate(416.6 526) scale(1.05 1)">3</text>
<text font-size="10.1" text-anchor="middle" transform="translate(433.7 526) scale(1.05 1)">4</text>
<text font-size="10.1" text-anchor="middle" transform="translate(450.8 526) scale(1.05 1)">5</text>
<text font-size="10.1" text-anchor="middle" transform="translate(467.9 526) scale(1.05 1)">6</text>
<text font-size="10.1" text-anchor="middle" transform="translate(485 526) scale(1.05 1)">7</text>
<text font-size="10.1" text-anchor="middle" transform="translate(502.1 526) scale(1.05 1)">8</text>
<text font-size="10.1" text-anchor="middle" transform="translate(519.2 526) scale(1.05 1)">9</text>
<text font-size="12.4" text-anchor="middle" transform="translate(133 14.9) scale(1.03 1)" stroke-width="0.1">dbh≥5cm</text>
<text font-size="12.4" text-anchor="middle" transform="translate(292 14.9) scale(1.03 1)" stroke-width="0.1">dbh≥10cm</text>
<text font-size="12.4" text-anchor="middle" transform="translate(451 14.9) scale(1.03 1)" stroke-width="0.1">dbh≥15cm</text>
<text font-size="13.1" text-anchor="middle" transform="translate(534.4 82.25) scale(1.04 1) rotate(90)" stroke-width="0.1">r=20m</text>
<text font-size="13.1" text-anchor="middle" transform="translate(534.4 205.5) scale(1.04 1) rotate(90)" stroke-width="0.1">r=15m</text>
<text font-size="13.1" text-anchor="middle" transform="translate(534.4 328.7) scale(1.04 1) rotate(90)" stroke-width="0.1">r=10m</text>
<text font-size="13.1" text-anchor="middle" transform="translate(534.4 451.75) scale(1.04 1) rotate(90)" stroke-width="0.1">r=5m</text>
<text font-size="19.1" text-anchor="middle" transform="translate(19.5 267.1) scale(0.95 1) rotate(-90)" stroke-width="0.3">bias (cm)</text>
<text font-size="18.9" text-anchor="middle" transform="translate(291.7 543.6) scale(1.02 1)" stroke-width="0.3">scan variant</text>
</g>
<g fill="#fff" stroke="none">
<path transform="translate(45.7 32.31) scale(1.02 1)" d="M-10.65 -1.04H-8.65V0.29H-10.65ZM-7.69 -1.04H-5.76V0.29H-7.69Z"/>
<path transform="translate(45.7 120.38) scale(1.02 1)" d="M-10.65 -1.04H-8.65V0.29H-10.65ZM-7.69 -1.04H-5.76V0.29H-7.69Z"/>
<path transform="translate(45.7 137.99) scale(1.02 1)" d="M-10.65 -1.04H-8.65V0.29H-10.65ZM-7.69 -1.04H-5.76V0.29H-7.69Z"/>
<path transform="translate(45.7 155.6) scale(1.02 1)" d="M-10.65 -1.04H-8.65V0.29H-10.65ZM-7.69 -1.04H-5.76V0.29H-7.69Z"/>
<path transform="translate(45.7 243.6) scale(1.02 1)" d="M-10.65 -1.04H-8.65V0.29H-10.65ZM-7.69 -1.04H-5.76V0.29H-7.69Z"/>
<path transform="translate(45.7 261.2) scale(1.02 1)" d="M-10.65 -1.04H-8.65V0.29H-10.65ZM-7.69 -1.04H-5.76V0.29H-7.69Z"/>
<path transform="translate(45.7 278.8) scale(1.02 1)" d="M-10.65 -1.04H-8.65V0.29H-10.65ZM-7.69 -1.04H-5.76V0.29H-7.69Z"/>
<path transform="translate(45.7 366.8) scale(1.02 1)" d="M-10.65 -1.04H-8.65V0.29H-10.65ZM-7.69 -1.04H-5.76V0.29H-7.69Z"/>
<path transform="translate(45.7 384.4) scale(1.02 1)" d="M-10.65 -1.04H-8.65V0.29H-10.65ZM-7.69 -1.04H-5.76V0.29H-7.69Z"/>
<path transform="translate(45.7 401.98) scale(1.02 1)" d="M-10.65 -1.04H-8.65V0.29H-10.65ZM-7.69 -1.04H-5.76V0.29H-7.69Z"/>
<path transform="translate(45.7 489.76) scale(1.02 1)" d="M-10.65 -1.04H-8.65V0.29H-10.65ZM-7.69 -1.04H-5.76V0.29H-7.69Z"/>
<path transform="translate(45.7 507.32) scale(1.02 1)" d="M-10.65 -1.04H-8.65V0.29H-10.65ZM-7.69 -1.04H-5.76V0.29H-7.69Z"/>
<path transform="translate(64.4 526) scale(1.05 1)" d="M-2.34 -1.05H-0.31V0.3H-2.34ZM0.66 -1.05H2.61V0.3H0.66Z"/>
<path transform="translate(223.4 526) scale(1.05 1)" d="M-2.34 -1.05H-0.31V0.3H-2.34ZM0.66 -1.05H2.61V0.3H0.66Z"/>
<path transform="translate(382.4 526) scale(1.05 1)" d="M-2.34 -1.05H-0.31V0.3H-2.34ZM0.66 -1.05H2.61V0.3H0.66Z"/>
<path transform="translate(292 14.9) scale(1.03 1)" d="M-0.83 -1.29H1.66V0.36H-0.83ZM2.85 -1.29H5.24V0.36H2.85Z"/>
<path transform="translate(451 14.9) scale(1.03 1)" d="M-0.83 -1.29H1.66V0.36H-0.83ZM2.85 -1.29H5.24V0.36H2.85Z"/>
<path transform="translate(534.4 205.5) scale(1.04 1) rotate(90)" d="M-6.12 -1.36H-3.49V0.38H-6.12ZM-2.23 -1.36H0.29V0.38H-2.23Z"/>
<path transform="translate(534.4 328.7) scale(1.04 1) rotate(90)" d="M-6.12 -1.36H-3.49V0.38H-6.12ZM-2.23 -1.36H0.29V0.38H-2.23Z"/>
</g>
</g>
</svg></div></body></html>
